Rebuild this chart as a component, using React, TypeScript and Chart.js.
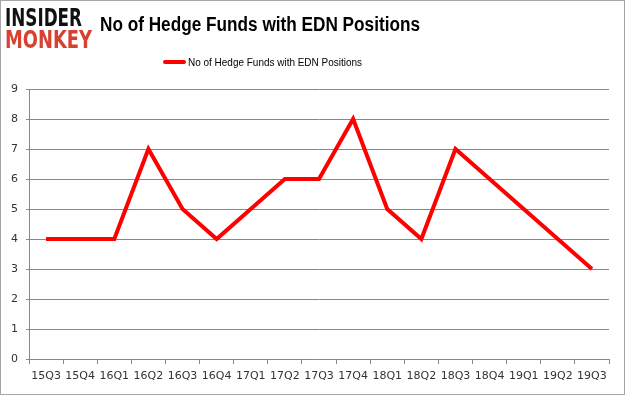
import React, { useEffect, useLayoutEffect, useRef } from "react";
import { Chart, registerables } from "chart.js";

Chart.register(...registerables);

const categories = ["15Q3","15Q4","16Q1","16Q2","16Q3","16Q4","17Q1","17Q2","17Q3","17Q4","18Q1","18Q2","18Q3","18Q4","19Q1","19Q2","19Q3"];
const hedgeFunds = [4,4,4,7,5,4,5,6,6,8,5,4,7,6,5,4,3];
const seriesLabel = "No of Hedge Funds with EDN Positions";
const chartTitle = "No of Hedge Funds with EDN Positions";
const yMin = 0;
const yMax = 9;

function FitText(props: { text: string; target: number; style: React.CSSProperties }) {
  const ref = useRef<HTMLSpanElement>(null);
  useLayoutEffect(() => {
    const el = ref.current;
    if (!el) return;
    el.style.transform = "none";
    const w = el.getBoundingClientRect().width;
    if (w > 0) el.style.transform = `scaleX(${props.target / w})`;
  }, [props.text, props.target]);
  return (
    <span
      ref={ref}
      style={{
        position: "absolute",
        whiteSpace: "nowrap",
        lineHeight: 1,
        transformOrigin: "left top",
        display: "inline-block",
        ...props.style,
      }}
    >
      {props.text}
    </span>
  );
}

export default function App() {
  const canvasRef = useRef<HTMLCanvasElement>(null);

  useEffect(() => {
    const canvas = canvasRef.current;
    if (!canvas) return;
    const chart = new Chart(canvas, {
      type: "line",
      data: {
        labels: categories,
        datasets: [
          {
            label: seriesLabel,
            data: hedgeFunds,
            borderColor: "#ff0000",
            backgroundColor: "#ff0000",
            borderWidth: 4,
            pointRadius: 0,
            pointHoverRadius: 0,
            tension: 0,
            fill: false,
          },
        ],
      },
      options: {
        responsive: false,
        animation: false,
        layout: { padding: { top: 89, left: 0, right: 16, bottom: 6 } },
        plugins: {
          legend: { display: false },
          title: { display: false },
          tooltip: { enabled: false },
        },
        scales: {
          x: {
            offset: true,
            grid: {
              offset: true,
              drawOnChartArea: false,
              drawTicks: true,
              tickLength: 5,
              color: "#888888",
            },
            border: { display: true, color: "#888888", width: 1 },
            ticks: {
              color: "#333333",
              font: { family: "DejaVu Sans", size: 11 },
              maxRotation: 0,
              autoSkip: false,
              padding: 6,
            },
            afterFit: (scale: any) => {
              scale.height = 30;
            },
          },
          y: {
            min: yMin,
            max: yMax,
            ticks: {
              stepSize: 1,
              color: "#333333",
              font: { family: "DejaVu Sans", size: 11 },
              padding: 8,
            },
            grid: {
              color: "#888888",
              lineWidth: 1,
              drawTicks: true,
              tickLength: 3,
            },
            border: { display: true, color: "#888888", width: 1 },
            afterFit: (scale: any) => {
              scale.width = 29;
            },
          },
        },
      },
    });
    return () => chart.destroy();
  }, []);

  return (
    <div
      style={{
        position: "absolute",
        left: 0,
        top: 0,
        width: 625,
        height: 395,
        background: "#ffffff",
        overflow: "hidden",
      }}
    >
      <canvas
        ref={canvasRef}
        width={625}
        height={395}
        style={{ position: "absolute", left: 0, top: 0, width: 625, height: 395 }}
      />
      <FitText
        text="INSIDER"
        target={77}
        style={{ left: 5, top: 5, fontFamily: "DejaVu Sans", fontWeight: 900, fontSize: 25, color: "#111111" }}
      />
      <FitText
        text="MONKEY"
        target={87}
        style={{ left: 5, top: 27, fontFamily: "DejaVu Sans", fontWeight: 900, fontSize: 25, color: "#d8412f" }}
      />
      <FitText
        text={chartTitle}
        target={320}
        style={{ left: 100, top: 14.5, fontFamily: "Liberation Sans", fontWeight: 700, fontSize: 19.5, color: "#000000" }}
      />
      <div
        style={{
          position: "absolute",
          left: 163,
          top: 60,
          width: 23,
          height: 4,
          background: "#ff0000",
          borderRadius: 2,
        }}
      />
      <FitText
        text={seriesLabel}
        target={174}
        style={{ left: 188, top: 56.7, fontFamily: "Liberation Sans", fontSize: 11, color: "#000000" }}
      />
      <div
        style={{
          position: "absolute",
          left: 0,
          top: 0,
          width: 625,
          height: 395,
          boxSizing: "border-box",
          border: "1px solid #a6a6a6",
          pointerEvents: "none",
        }}
      />
    </div>
  );
}
